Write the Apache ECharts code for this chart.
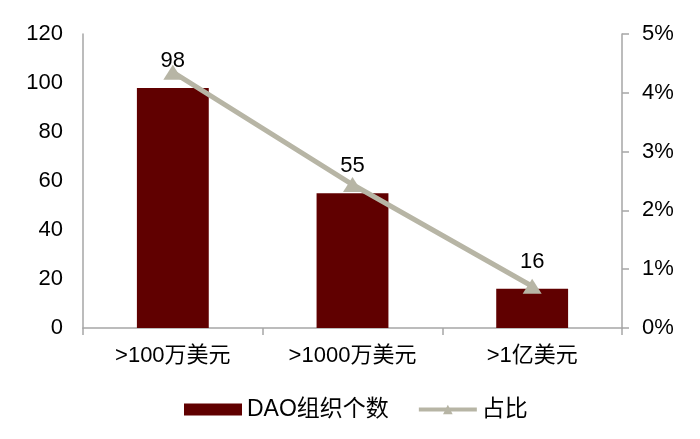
<!DOCTYPE html>
<html>
<head>
<meta charset="utf-8">
<script src="https://cdn.jsdelivr.net/npm/echarts@6/dist/echarts.min.js"></script>
<style>
  html, body { margin: 0; padding: 0; background: #fff; }
  #main { width: 700px; height: 439px; }
</style>
</head>
<body>
<div id="main"></div>
<script>
// 数据
var categories = ['>100万美元', '>1000万美元', '>1亿美元'];
var daoCount = [98, 55, 16];
var shareValues = [4.35, 2.44, 0.71];
var leftTicks = [0, 120, 20];
var rightTicks = [0, 5, 1];

var font = 'Liberation Sans, Arial, Noto Sans CJK SC, sans-serif';
var axisGrey = '#a6a6a6';
var lineColor = '#b7b5a5';
var fs = 22;

var chart = echarts.init(document.getElementById('main'));
var option = {
    animation: false,
    textStyle: { fontFamily: font },
    grid: { left: 83, right: 78, top: 34, bottom: 111 },
    legend: {
        bottom: 13,
        left: 179,
        itemWidth: 58,
        itemHeight: 12,
        itemGap: 28,
        textStyle: { fontSize: 23, color: '#000', fontFamily: font },
        data: [
            { name: 'DAO组织个数', icon: 'rect' },
            { name: '占比', lineStyle: { width: 4, color: lineColor } }
        ]
    },
    xAxis: {
        type: 'category',
        data: categories,
        axisLine: { lineStyle: { color: axisGrey, width: 1.5 } },
        axisTick: { show: true, length: 7, lineStyle: { color: axisGrey, width: 1.5 } },
        axisLabel: { fontSize: fs, color: '#000', margin: 17, fontFamily: font }
    },
    yAxis: [
        {
            type: 'value',
            min: leftTicks[0], max: leftTicks[1], interval: leftTicks[2],
            axisLine: { show: true, lineStyle: { color: axisGrey, width: 1.5 } },
            axisTick: { show: false },
            splitLine: { show: false },
            axisLabel: { fontSize: fs, color: '#000', margin: 20, fontFamily: font }
        },
        {
            type: 'value',
            position: 'right',
            min: rightTicks[0], max: rightTicks[1], interval: rightTicks[2],
            axisLine: { show: true, lineStyle: { color: axisGrey, width: 1.5 } },
            axisTick: { show: true, length: 7, inside: false, lineStyle: { color: axisGrey, width: 1.5 } },
            splitLine: { show: false },
            axisLabel: { fontSize: fs, color: '#000', margin: 20, formatter: '{value}%', fontFamily: font }
        }
    ],
    series: [
        {
            name: 'DAO组织个数',
            type: 'bar',
            barWidth: '40%',
            data: daoCount,
            itemStyle: { color: '#600000' },
            label: {
                show: true,
                position: 'top',
                distance: 16,
                fontSize: fs,
                color: '#000',
                fontFamily: font
            },
            z: 2
        },
        {
            name: '占比',
            type: 'line',
            yAxisIndex: 1,
            data: shareValues,
            symbol: 'triangle',
            symbolSize: [19, 15],
            lineStyle: { color: lineColor, width: 5 },
            itemStyle: { color: lineColor },
            z: 3
        }
    ]
};
chart.setOption(option);
</script>
</body>
</html>
